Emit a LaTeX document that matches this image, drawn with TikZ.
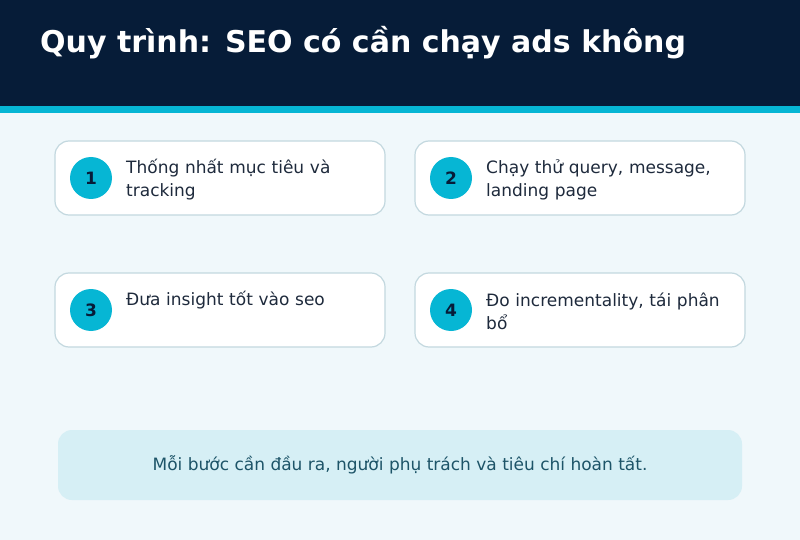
\documentclass[tikz,border=0pt]{standalone}
\usepackage{fontspec}
\setmainfont{DejaVu Sans}
\definecolor{navy}{HTML}{061C38}
\definecolor{cyanc}{HTML}{06B6D4}
\definecolor{bgc}{HTML}{F0F8FB}
\definecolor{cardb}{HTML}{C3D8DF}
\definecolor{txt}{HTML}{1E2A3C}
\definecolor{notef}{HTML}{D6EFF5}
\definecolor{notet}{HTML}{1D5468}
\begin{document}
\begin{tikzpicture}[x=1pt,y=-1pt,
  card/.style={draw=cardb,line width=1.2pt,fill=white,rounded corners=14pt,minimum width=330pt,minimum height=74pt,inner sep=0pt},
  badge/.style={circle,fill=cyanc,minimum size=42pt,inner sep=0pt,font=\fontsize{17}{20}\selectfont\bfseries,text=navy},
  ctext/.style={anchor=west,align=left,text width=250pt,font=\fontsize{17}{23}\selectfont,text=txt,inner sep=0pt}]
\useasboundingbox (0,0) rectangle (800,540);
\fill[bgc] (0,0) rectangle (800,540);
\fill[navy] (0,0) rectangle (800,106);
\fill[cyanc] (0,106) rectangle (800,113);
\node[anchor=west,text=white,font=\fontsize{30}{34}\selectfont\bfseries,inner sep=0pt] (title) at (40,43) {Quy trình: SEO có cần chạy ads không};
\node[card] (c1) at (220,178) {};
\node[card] (c2) at (580,178) {};
\node[card] (c3) at (220,310) {};
\node[card] (c4) at (580,310) {};
\node[badge] (b1) at (91,178) {1};
\node[badge] (b2) at (451,178) {2};
\node[badge] (b3) at (91,310) {3};
\node[badge] (b4) at (451,310) {4};
\node[ctext] (t1) at (126,179.5) {Thống nhất mục tiêu và\\tracking};
\node[ctext] (t2) at (486,179.5) {Chạy thử query, message,\\landing page};
\node[ctext] (t3) at (126,300) {Đưa insight tốt vào seo};
\node[ctext] (t4) at (486,311.5) {Đo incrementality, tái phân\\bổ};
\node[fill=notef,rounded corners=14pt,minimum width=684pt,minimum height=70pt,inner sep=0pt,text=notet,font=\fontsize{17}{20}\selectfont] (note) at (400,465) {Mỗi bước cần đầu ra, người phụ trách và tiêu chí hoàn tất.};
\end{tikzpicture}
\end{document}
